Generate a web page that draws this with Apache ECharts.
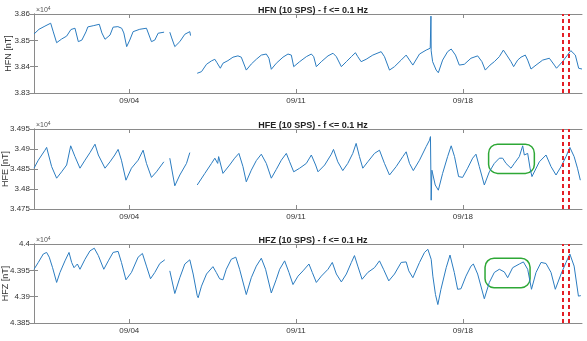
<!DOCTYPE html>
<html>
<head>
<meta charset="utf-8">
<script src="https://cdn.jsdelivr.net/npm/echarts@6/dist/echarts.min.js"></script>
<style>
  html, body { margin: 0; padding: 0; background: #fff; }
  #chart { width: 587px; height: 341px; }
</style>
</head>
<body>
<div id="chart"></div>
<script>
// x values are days counted from 08/31 00:00, null = data gap
const tickDays = [4, 11, 18];
const tickLabels = ['09/04', '09/11', '09/18'];
const channels = ['HFN', 'HFE', 'HFZ'];
const yMins = [38300, 34750, 43850];
const yMaxs = [38600, 34950, 44000];
const ySteps = [100, 50, 50];

const hfnDays = [0, 0.21, 0.46, 0.70, 0.81, 0.95, 1.16, 1.37, 1.55, 1.72, 1.86, 2.01, 2.18, 2.26, 2.51, 2.74, 2.85, 2.98,
  3.19, 3.32, 3.52, 3.68, 3.77, 3.89, 4.02, 4.16, 4.44, 4.72, 4.79, 4.93, 5.07, 5.21, 5.46, 5.58,
  5.70, 5.78, 5.91, 6.12, 6.33, 6.54, 6.57, 6.70,
  6.85, 6.93, 7.03, 7.24, 7.45, 7.59, 7.68, 7.82, 7.93, 8.14, 8.35, 8.56, 8.70, 8.91, 9.12, 9.33, 9.54, 9.75, 9.86, 9.96,
  10.17, 10.45, 10.66, 10.80, 10.90, 11.15, 11.43, 11.64, 11.74, 11.85, 12.06, 12.34, 12.55, 12.69, 12.90, 13.11, 13.32,
  13.49, 13.59, 13.73, 13.94, 14.22, 14.57, 14.71, 14.92, 15.13, 15.41, 15.62, 15.76, 15.90, 16.18, 16.46, 16.63, 16.66,
  16.67, 16.73, 16.88, 16.97, 17.15, 17.36, 17.51, 17.69, 17.85, 18.06, 18.34, 18.62, 18.80, 18.94, 19.14, 19.32, 19.53,
  19.70, 19.84, 20.02, 20.13, 20.30, 20.44, 20.62, 20.72, 20.86, 21.07, 21.35, 21.63, 21.84, 21.93, 22.18, 22.39, 22.53,
  22.72, 22.86, 23.0];
const hfnVals = [38524, 38542, 38554, 38565, 38532, 38491, 38505, 38516, 38541, 38546, 38495, 38501, 38532, 38551, 38556, 38561, 38528, 38504,
  38520, 38550, 38552, 38546, 38528, 38476, 38501, 38533, 38542, 38546, 38539, 38495, 38501, 38527, 38531, null,
  38531, 38509, 38476, 38495, 38523, 38533, 38518, null,
  38375, 38368, 38381, 38409, 38422, 38428, 38415, 38394, 38413, 38423, 38436, 38441, 38436, 38387, 38410, 38428, 38444, 38448, 38432, 38390,
  38413, 38436, 38448, 38444, 38400, 38419, 38438, 38448, 38438, 38400, 38419, 38441, 38451, 38438, 38400, 38419, 38438,
  38453, 38438, 38419, 38428, 38444, 38457, 38438, 38387, 38400, 38425, 38444, 38425, 38406, 38448, 38463, 38470, 38592,
  38460, 38419, 38387, 38377, 38425, 38457, 38467, 38444, 38406, 38409, 38432, 38441, 38419, 38387, 38406, 38419, 38438,
  38463, 38444, 38419, 38400, 38425, 38436, 38444, 38425, 38391, 38406, 38425, 38432, 38406, 38394, 38419, 38444, 38461,
  38444, 38394, 38391];

const hfeDays = [0, 0.18, 0.46, 0.53, 0.74, 0.95, 1.16, 1.37, 1.54, 1.72, 1.93, 2.14, 2.35, 2.56, 2.70, 2.98, 3.19, 3.39,
  3.53, 3.67, 3.86, 4.09, 4.37, 4.58, 4.72, 4.93, 5.14, 5.45, 5.58,
  5.70, 5.91, 6.12, 6.40, 6.54, 6.70,
  6.85, 6.93, 7.17, 7.45, 7.59, 7.66, 7.71, 7.75, 7.93, 8.21, 8.42, 8.60, 8.77, 8.91, 9.12, 9.33, 9.54, 9.75, 9.96,
  10.17, 10.38, 10.59, 10.73, 10.90, 11.15, 11.43, 11.64, 11.82, 11.92, 12.20, 12.48, 12.57, 12.75, 12.96, 13.17, 13.38,
  13.52, 13.66, 13.80, 14.01, 14.29, 14.50, 14.71, 14.92, 15.20, 15.48, 15.62, 15.76, 15.92, 16.18, 16.46, 16.60, 16.64,
  16.67, 16.70, 16.84, 16.97, 17.15, 17.36, 17.51, 17.65, 17.82, 17.99, 18.20, 18.41, 18.55, 18.69, 18.90, 19.11, 19.32,
  19.53, 19.67, 19.81, 20.02, 20.16, 20.37, 20.51, 20.58, 20.72, 20.82, 20.90, 21.21, 21.49, 21.70, 21.91, 22.12, 22.33,
  22.49, 22.67, 22.81, 22.93];
const hfeVals = [34852, 34872, 34897, 34904, 34856, 34827, 34843, 34860, 34908, 34881, 34852, 34872, 34891, 34912, 34885, 34852, 34868, 34885,
  34899, 34872, 34822, 34852, 34872, 34897, 34864, 34829, 34843, 34868, null,
  34877, 34808, 34835, 34864, 34891, null,
  34810, 34806, 34839, 34864, 34877, 34881, 34864, 34881, 34839, 34860, 34877, 34889, 34856, 34818, 34847, 34871, 34887, 34864, 34827,
  34849, 34872, 34889, 34868, 34843, 34852, 34864, 34885, 34860, 34843, 34860, 34887, 34899, 34868, 34846, 34864, 34889,
  34914, 34881, 34852, 34868, 34889, 34897, 34864, 34835, 34856, 34881, 34893, 34864, 34846, 34872, 34906, 34922, 34931,
  34772, 34847, 34810, 34797, 34839, 34881, 34908, 34881, 34831, 34829, 34852, 34877, 34887, 34856, 34810, 34843, 34864,
  34877, 34877, 34864, 34852, 34864, 34881, 34908, 34885, 34889, 34852, 34831, 34868, 34885, 34856, 34835, 34856, 34881,
  34904, 34881, 34852, 34822];

const hfzDays = [0, 0.18, 0.39, 0.53, 0.64, 0.78, 0.95, 1.09, 1.30, 1.47, 1.58, 1.68, 1.82, 1.93, 2.14, 2.35, 2.53, 2.70,
  2.93, 3.12, 3.32, 3.53, 3.67, 3.86, 4.09, 4.37, 4.55, 4.72, 4.89, 5.07, 5.28, 5.49, 5.60,
  5.70, 5.91, 6.12, 6.33, 6.54, 6.68, 6.85, 6.89, 7.03, 7.24, 7.51, 7.65, 7.79, 7.93, 8.07, 8.28, 8.47, 8.63, 8.91,
  9.12, 9.33, 9.54, 9.72, 9.96, 10.17, 10.31, 10.52, 10.70, 10.87, 11.08, 11.29, 11.54, 11.68, 11.85, 12.06, 12.34,
  12.52, 12.69, 12.90, 13.11, 13.32, 13.45, 13.59, 13.77, 14.01, 14.29, 14.50, 14.67, 14.89, 15.13, 15.41, 15.62,
  15.73, 15.90, 16.18, 16.39, 16.53, 16.67, 16.74, 16.85, 16.95, 17.08, 17.30, 17.46, 17.64, 17.78, 17.92, 18.13,
  18.34, 18.44, 18.62, 18.90, 19.11, 19.32, 19.53, 19.74, 19.88, 20.09, 20.37, 20.54, 20.72, 20.88, 21.07, 21.28,
  21.49, 21.70, 21.88, 22.12, 22.33, 22.49, 22.67, 22.85, 22.95];
const hfzVals = [43952, 43965, 43981, 43984, 43975, 43955, 43927, 43946, 43968, 43984, 43965, 43955, 43962, 43952, 43971, 43987, 43992, 43978,
  43952, 43968, 43984, 43986, 43965, 43932, 43946, 43975, 43982, 43958, 43934, 43946, 43963, 43970, null,
  43949, 43906, 43936, 43962, 43970, 43943, 43902, 43898, 43920, 43943, 43957, 43946, 43934, 43932, 43952, 43971, 43975, 43952, 43904,
  43936, 43958, 43973, 43952, 43907, 43933, 43952, 43968, 43946, 43923, 43939, 43949, 43962, 43946, 43927, 43939, 43952,
  43965, 43943, 43928, 43943, 43965, 43978, 43958, 43933, 43946, 43955, 43968, 43952, 43930, 43943, 43965, 43966,
  43949, 43936, 43965, 43984, 43990, 43971, 43939, 43904, 43885, 43914, 43955, 43979, 43946, 43914, 43915, 43939,
  43958, 43962, 43943, 43896, 43927, 43946, 43952, 43947, 43936, 43955, 43962, 43966, 43952, 43914, 43946, 43965,
  43963, 43946, 43914, 43943, 43965, 43981, 43958, 43901, 43902];

// red dashed event lines, and the green boxes on HFE / HFZ
const redDays = [22.18, 22.46];
const boxPanels = [1, 2];
const boxDays = [[19.08, 21.0], [18.93, 20.82]];
const boxVals = [[34839, 34912], [43917, 43973]];

const allDays = [hfnDays, hfeDays, hfzDays];
const allVals = [hfnVals, hfeVals, hfzVals];

const chart = echarts.init(document.getElementById('chart'));
const frame = '#8a8a8a';
const txt = '#333';
const font = 'Liberation Sans, Arial, sans-serif';
const grids = [
  { left: 34, top: 14, width: 548, height: 79, outerBoundsMode: 'none', containLabel: false },
  { left: 34, top: 129, width: 548, height: 80, outerBoundsMode: 'none', containLabel: false },
  { left: 34, top: 244, width: 548, height: 79, outerBoundsMode: 'none', containLabel: false },
];
const titleTops = [1, 116, 231];
const nameGaps = [21, 24, 24];

let xAxes = [], yAxes = [], series = [], titles = [];
channels.forEach((ch, i) => {
  titles.push({
    text: ch + ' (10 SPS) - f <= 0.1 Hz',
    left: 308, top: titleTops[i], textAlign: 'center',
    textStyle: { fontSize: 9, fontWeight: 'bold', color: '#222', fontFamily: font },
  });
  const xBase = {
    type: 'value', gridIndex: i, min: 0, max: 23,
    axisLine: { show: true, lineStyle: { color: frame, width: 1 } },
    axisTick: { inside: true, length: 4, customValues: tickDays, lineStyle: { color: frame } },
    splitLine: { show: false },
  };
  xAxes.push(Object.assign({}, xBase, {
    position: 'bottom',
    axisLabel: {
      customValues: tickDays, fontSize: 8, color: txt, fontFamily: font, margin: 4,
      formatter: (v) => tickLabels[tickDays.indexOf(v)] || '',
    },
  }));
  xAxes.push(Object.assign({}, xBase, { position: 'top', axisLabel: { show: false } }));
  const yBase = {
    type: 'value', gridIndex: i, min: yMins[i], max: yMaxs[i], interval: ySteps[i],
    axisLine: { show: true, lineStyle: { color: frame, width: 1 } },
    axisTick: { show: true, inside: true, length: 4, lineStyle: { color: frame } },
    splitLine: { show: false },
  };
  yAxes.push(Object.assign({}, yBase, {
    position: 'left',
    name: ch + ' [nT]', nameLocation: 'middle', nameGap: nameGaps[i], nameMoveOverlap: false,
    nameTextStyle: { fontSize: 9, color: txt, fontFamily: font },
    axisLabel: {
      fontSize: 8, color: txt, fontFamily: font, margin: 4,
      formatter: (v) => String(+(v / 1e4).toFixed(4)),
    },
  }));
  yAxes.push(Object.assign({}, yBase, { position: 'right', axisLabel: { show: false } }));

  const data = allDays[i].map((d, k) => [d, allVals[i][k] === null ? '-' : allVals[i][k]]);
  series.push({
    type: 'line', xAxisIndex: 2 * i, yAxisIndex: 2 * i, data: data,
    showSymbol: false, connectNulls: false,
    lineStyle: { color: '#2b7cc0', width: 1 }, itemStyle: { color: '#2b7cc0' },
    markLine: {
      silent: true, symbol: ['none', 'none'], label: { show: false },
      lineStyle: { color: '#e41f26', width: 2, type: [4, 3] },
      data: redDays.map((d) => ({ xAxis: d })),
    },
  });
});

chart.setOption({
  animation: false,
  title: titles,
  grid: grids,
  xAxis: xAxes,
  yAxis: yAxes,
  series: series,
});

// exponent labels and green boxes, placed after the axes exist
let graphics = [];
grids.forEach((g) => {
  graphics.push({
    type: 'text', left: g.left + 2, top: g.top - 8,
    style: {
      text: '{a|×10}{b|4}', fontFamily: font,
      rich: { a: { fontSize: 7, fill: '#555' }, b: { fontSize: 5, fill: '#555', verticalAlign: 'top', padding: [0, 0, 4, 0] } },
    },
  });
});
boxPanels.forEach((p, k) => {
  const a = chart.convertToPixel({ gridIndex: p }, [boxDays[k][0], boxVals[k][1]]);
  const b = chart.convertToPixel({ gridIndex: p }, [boxDays[k][1], boxVals[k][0]]);
  graphics.push({
    type: 'rect', silent: true,
    shape: { x: a[0], y: a[1], width: b[0] - a[0], height: b[1] - a[1], r: 9 },
    style: { fill: 'none', stroke: '#2ea836', lineWidth: 1.5 },
  });
});
chart.setOption({ graphic: graphics });
</script>
</body>
</html>
